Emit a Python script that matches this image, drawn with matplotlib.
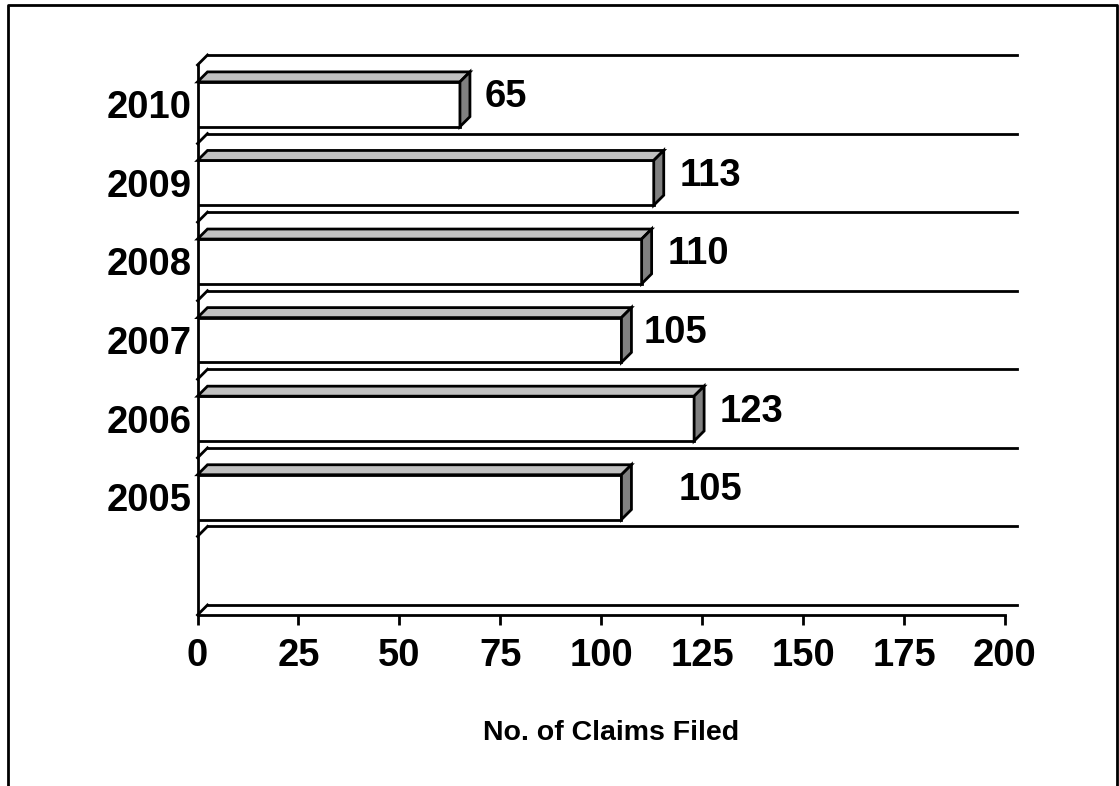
"""
Claims filed per year, drawn as an Excel-style 3D horizontal bar chart.
"""

import matplotlib
matplotlib.use("Agg")

import matplotlib.pyplot as plt
import matplotlib.transforms as mtransforms
import numpy as np
from matplotlib import font_manager
from matplotlib.lines import Line2D
from matplotlib.patches import Polygon

YEARS = ["2005", "2006", "2007", "2008", "2009", "2010"]
CLAIMS = [105, 123, 105, 110, 113, 65]
X_TICKS = [0, 25, 50, 75, 100, 125, 150, 175, 200]
X_LABEL = "No. of Claims Filed"

DEPTH = 10  # pixels of fake depth (right and up)
BAR_HEIGHT = 0.57
EDGE = "black"
LW = 2.0

installed = {f.name for f in font_manager.fontManager.ttflist}
if "Liberation Sans Narrow" in installed:
    FONT, BIG = "Liberation Sans Narrow", 29
else:
    FONT, BIG = "Liberation Sans", 27.5
plt.rcParams["font.family"] = [FONT, "DejaVu Sans"]

fig = plt.figure(figsize=(11.19, 7.86), dpi=100)
W, H = 1119, 786
ax = fig.add_axes([197.5 / W, 1 - 615 / H, 807.5 / W, 550 / H])
ax.set_xlim(0, 200)
ax.set_ylim(-1.5, len(YEARS) - 0.5)
ax.patch.set_alpha(0)

y_pos = np.arange(len(YEARS))


def to_px(x, y):
    return ax.transData.transform((x, y))


def face(points, color, z):
    p = Polygon(points, closed=True, facecolor=color, edgecolor=EDGE, lw=LW,
                transform=mtransforms.IdentityTransform(), zorder=z, joinstyle="miter")
    fig.add_artist(p)


# back wall gridlines and side-wall diagonals
d = np.array([DEPTH, DEPTH])
for b in np.arange(-1.5, len(YEARS), 1.0):
    left = to_px(0, b)
    right = to_px(200, b)
    fig.add_artist(Line2D([left[0] + DEPTH, right[0] + DEPTH + 2], [left[1] + DEPTH, right[1] + DEPTH],
                          color=EDGE, lw=LW, transform=mtransforms.IdentityTransform(), zorder=1))
    fig.add_artist(Line2D([left[0], left[0] + DEPTH], [left[1], left[1] + DEPTH],
                          color=EDGE, lw=LW, transform=mtransforms.IdentityTransform(), zorder=1))

# front faces
ax.barh(y_pos, CLAIMS, height=BAR_HEIGHT, color="white", edgecolor=EDGE, linewidth=LW, zorder=3)

# top and side faces
h = BAR_HEIGHT / 2
for y, v in zip(y_pos, CLAIMS):
    tl, tr, br = to_px(0, y + h), to_px(v, y + h), to_px(v, y - h)
    face([tl, tr, tr + d, tl + d], "#c0c0c0", 4)
    face([br, tr, tr + d, br + d], "#808080", 4)

# value labels (Excel put the 2005 one further out)
label_shift = [47, 16, 12, 16, 16, 15]
for y, v, s in zip(y_pos, CLAIMS, label_shift):
    tr = mtransforms.offset_copy(ax.transData, fig=fig, x=DEPTH + s, y=7, units="dots")
    ax.text(v, y, str(v), transform=tr, ha="left", va="center",
            fontsize=BIG, fontweight="bold", zorder=5)

ax.set_xticks(X_TICKS)
ax.set_xticklabels([str(t) for t in X_TICKS])
ax.set_yticks(y_pos)
ax.set_yticklabels(YEARS)
ax.tick_params(axis="x", direction="out", length=7.5, width=LW, pad=9, labelsize=BIG)
ax.tick_params(axis="y", length=0, pad=4, labelsize=BIG)
for lbl in ax.get_xticklabels() + ax.get_yticklabels():
    lbl.set_fontweight("bold")

for side in ("top", "right"):
    ax.spines[side].set_visible(False)
for side in ("left", "bottom"):
    ax.spines[side].set_linewidth(LW)
    ax.spines[side].set_zorder(2)

ax.set_xlabel(X_LABEL, fontsize=20.5, fontweight="bold", family=["Liberation Sans", "DejaVu Sans"])
ax.xaxis.set_label_coords((611 - 197.5) / 807.5, (615 - 733) / 550)
ax.xaxis.label.set_va("center")

# outer frame (bottom edge is cut off in the original)
fig.add_artist(Line2D([8 / W, 8 / W, 1117 / W, 1117 / W], [0, 1 - 5 / H, 1 - 5 / H, 0],
                      color="black", lw=2.0, transform=fig.transFigure))

fig.savefig("out.png", dpi=100, facecolor="white")
